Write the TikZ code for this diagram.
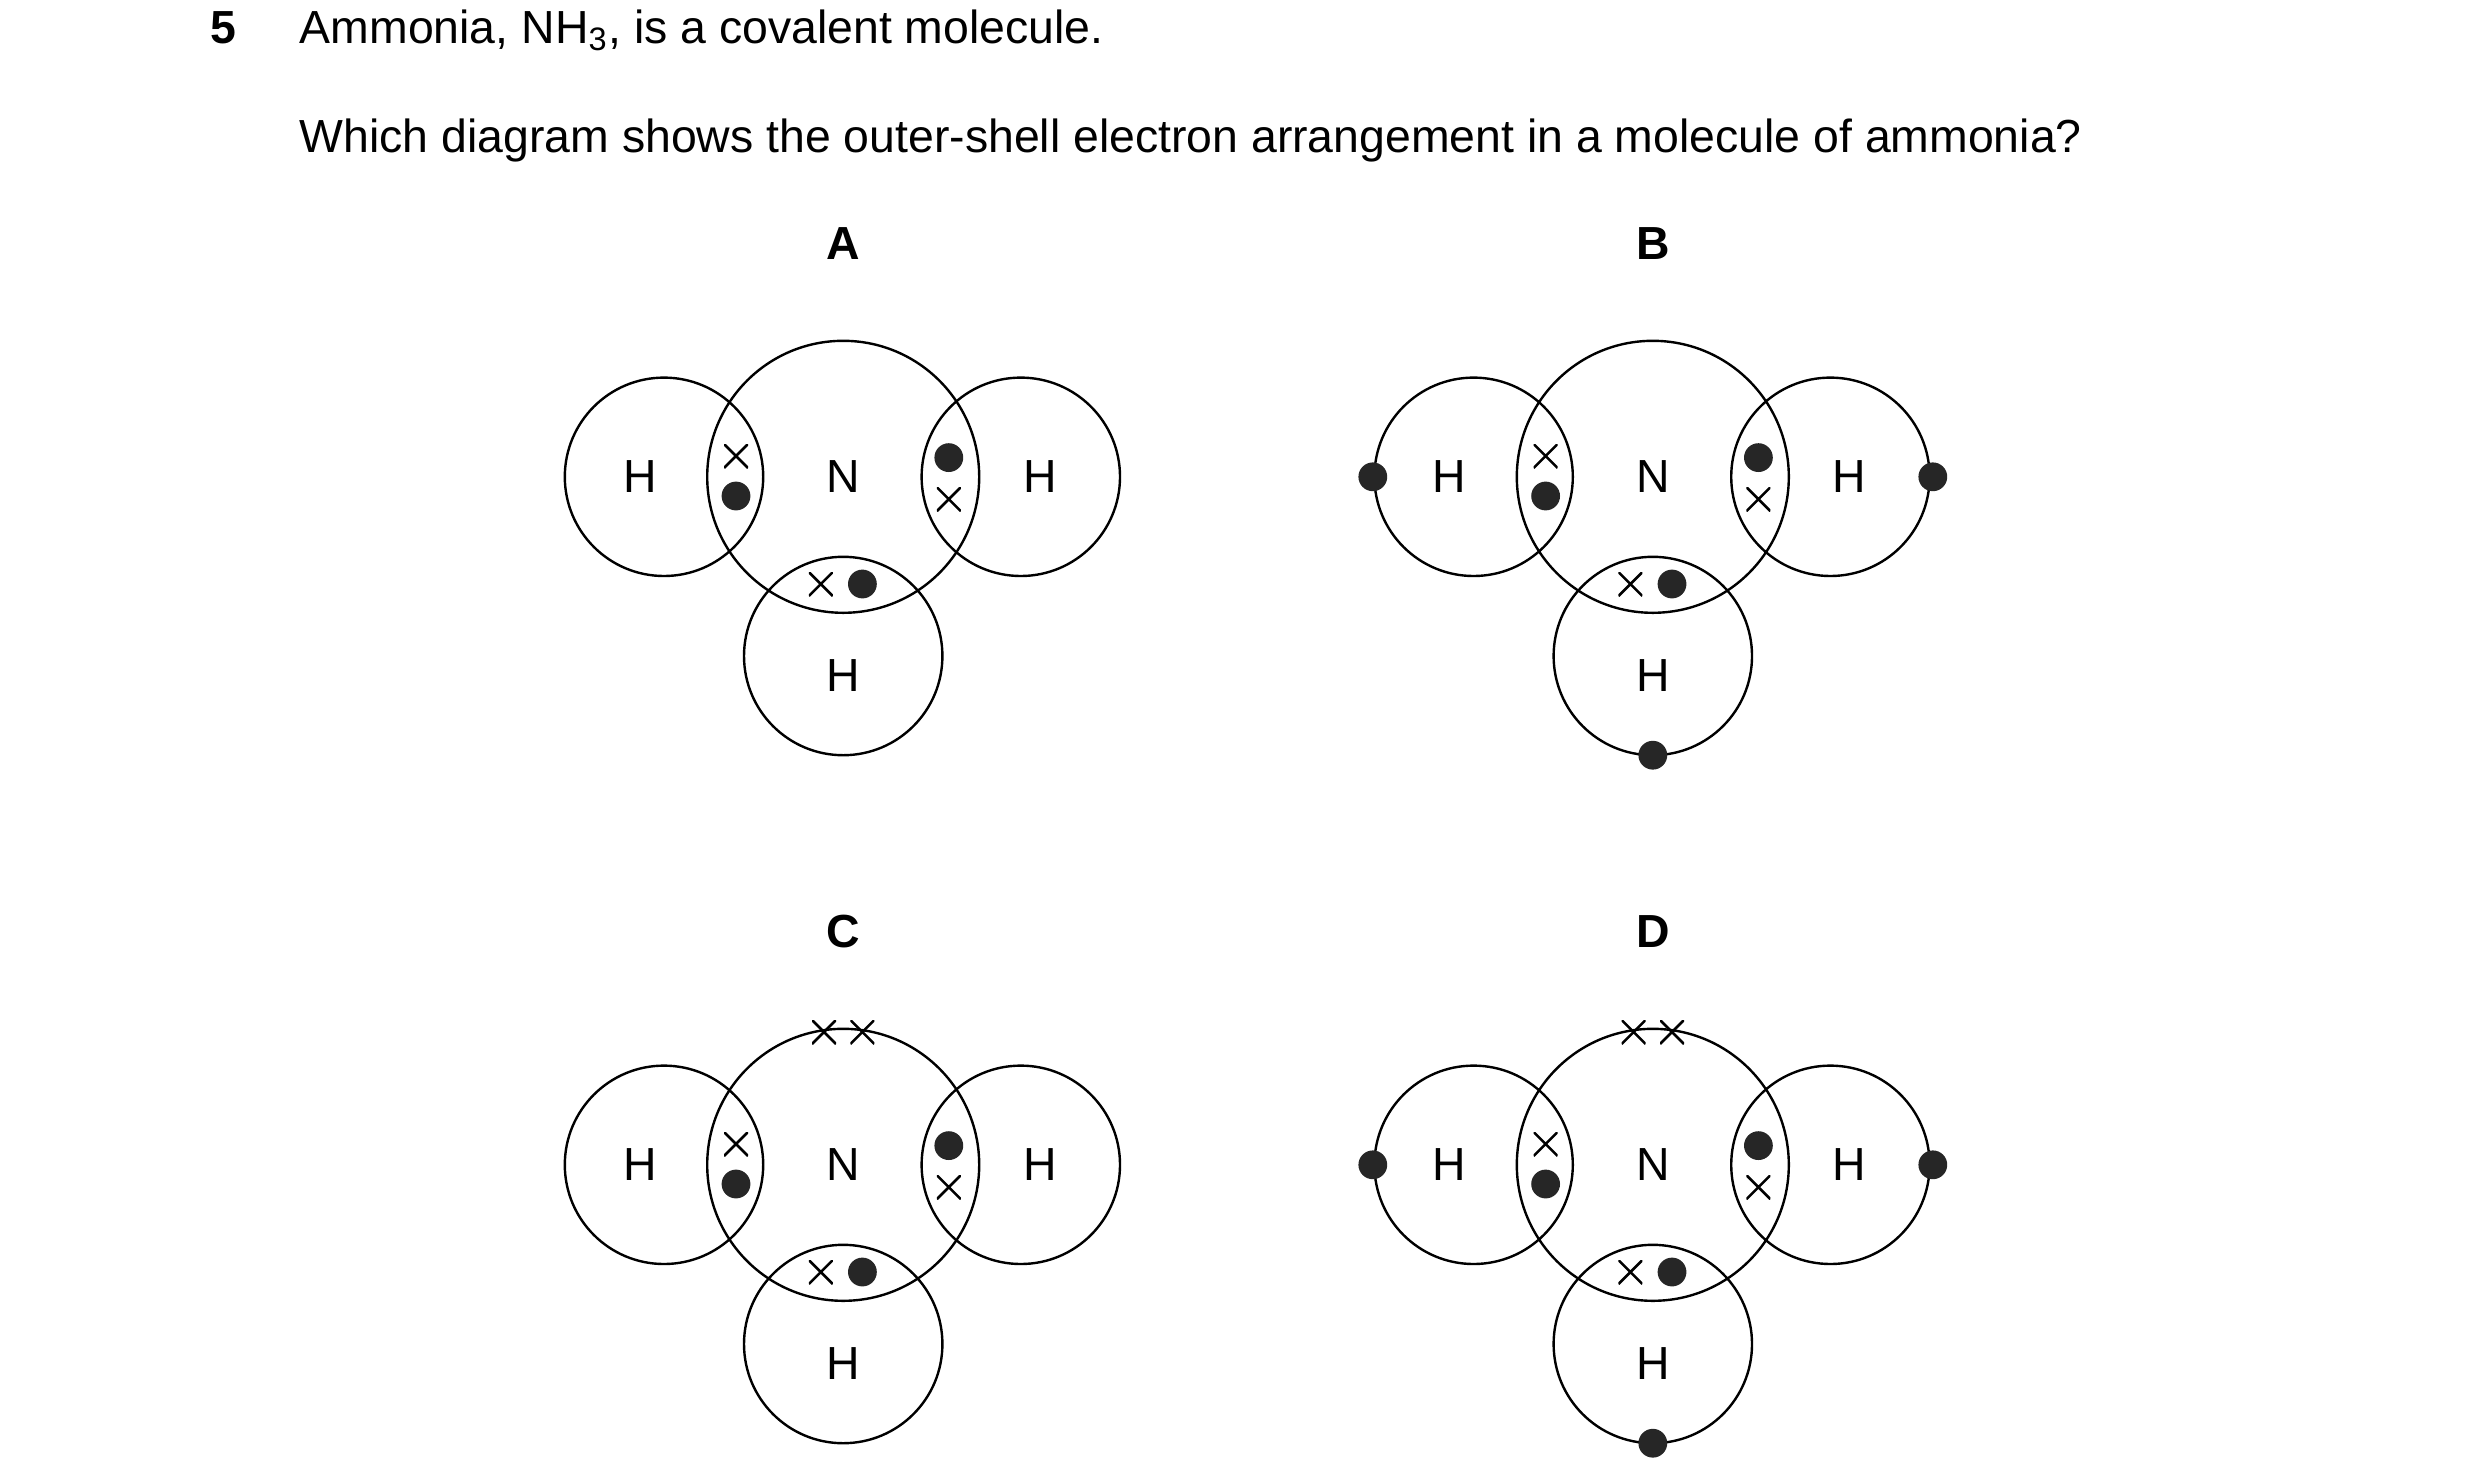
\documentclass[tikz,border=0pt]{standalone}
\usepackage{fontspec}
\setmainfont{Liberation Sans}
\begin{document}
\begin{tikzpicture}[x=0.5pt,y=-0.5pt,
 ln/.style={line width=0.75pt},
 txt/.style={font=\fontsize{14.5}{16}\selectfont, inner sep=0pt},
 lab/.style={font=\fontsize{14.5}{16}\selectfont\bfseries, inner sep=0pt},
 atom/.style={font=\fontsize{14.5}{16}\selectfont, inner sep=0pt},
 dot/.style={circle, fill=black!85, inner sep=0pt, minimum size=9pt},
 cross/.style={inner sep=0pt, minimum size=7.5pt, path picture={\draw[line width=0.8pt] (path picture bounding box.north west)--(path picture bounding box.south east) (path picture bounding box.north east)--(path picture bounding box.south west);}},
 pics/mol/.style={code={
  \draw[ln] (0,0) circle[radius=85] (-112,0) circle[radius=62] (111,0) circle[radius=62] (0,112) circle[radius=62];
  \node[atom] (-n) at (0,0) {N};
  \node[atom] (-hl) at (-127,0) {H};
  \node[atom] (-hr) at (123,0) {H};
  \node[atom] (-hb) at (0,124) {H};
  \node[cross] (-x1) at (-67,-13) {};
  \node[dot] (-d1) at (-67,12) {};
  \node[dot] (-d2) at (66,-12) {};
  \node[cross] (-x2) at (66,14) {};
  \node[cross] (-x3) at (-14,67) {};
  \node[dot] (-d3) at (12,67) {};
 }}]
\useasboundingbox (0,0) rectangle (1550,926);
\node[lab,anchor=base west] (q) at (131,27) {5};
\node[txt,anchor=base west] (t1) at (187,27) {Ammonia, NH\textsubscript{3}, is a covalent molecule.};
\node[txt,anchor=base west] (t2) at (187,95) {Which diagram shows the outer-shell electron arrangement in a molecule of ammonia?};
\node[lab] (la) at (527,152) {A};
\node[lab] (lb) at (1033,152) {B};
\node[lab] (lc) at (527,582) {C};
\node[lab] (ld) at (1033,582) {D};
\pic (ma) at (527,298) {mol};
\pic (mb) at (1033,298) {mol};
\pic (mc) at (527,728) {mol};
\pic (md) at (1033,728) {mol};
\node[dot] (b1) at (858,298) {};
\node[dot] (b2) at (1208,298) {};
\node[dot] (b3) at (1033,472) {};
\node[dot] (d1) at (858,728) {};
\node[dot] (d2) at (1208,728) {};
\node[dot] (d3) at (1033,902) {};
\node[cross] (c1) at (515,645) {};
\node[cross] (c2) at (539,645) {};
\node[cross] (e1) at (1021,645) {};
\node[cross] (e2) at (1045,645) {};
\end{tikzpicture}
\end{document}
